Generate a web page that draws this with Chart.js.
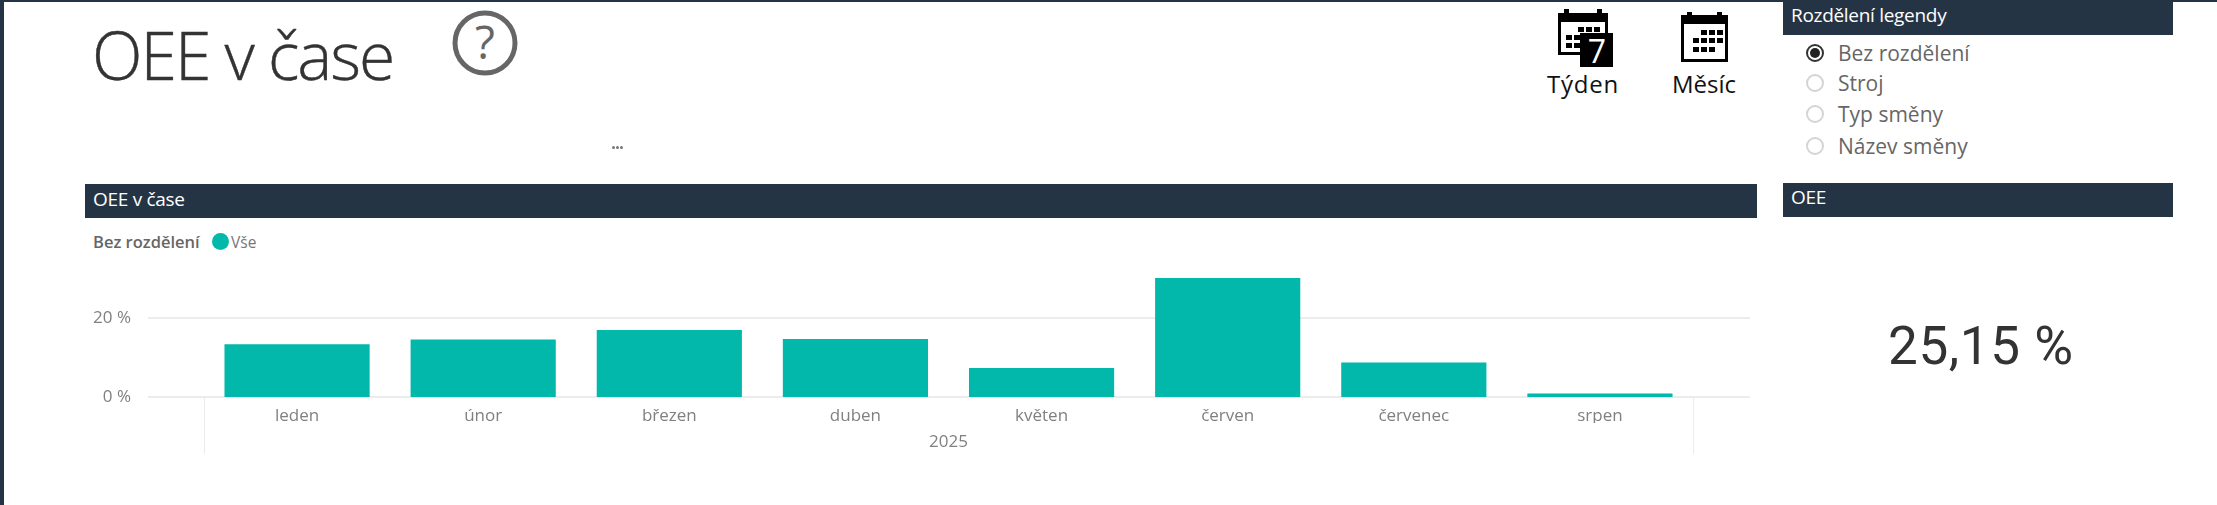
<!DOCTYPE html>
<html lang="cs">
<head>
<meta charset="utf-8">
<title>OEE v čase</title>
<script src="https://cdn.jsdelivr.net/npm/chart.js@4/dist/chart.umd.min.js"></script>
<style>
    html, body { margin: 0; padding: 0; background: #fff; }
    body { position: relative; width: 2217px; height: 505px; overflow: hidden; font-family: "Open Sans", sans-serif; }
    canvas { position: absolute; left: 0; top: 0; }
    .edge-top { position: absolute; left: 0; top: 0; width: 2217px; height: 2px; background: #253444; }
    .edge-left { position: absolute; left: 0; top: 0; width: 4px; height: 505px; background: #253444; }
    .txt { position: absolute; white-space: nowrap; }
    .bar { position: absolute; background: #253444; color: #fff; font-size: 19px; letter-spacing: -0.3px; box-sizing: border-box; padding-left: 8px; }
    .page-title { left: 92px; top: 12px; font-size: 66px; line-height: 84px; font-weight: 300; color: #333; letter-spacing: -2px; -webkit-text-stroke: 0.4px #333; }
    .legend-name { left: 93px; top: 231px; font-size: 16.5px; line-height: 22px; font-weight: 600; color: #666; }
    .legend-dot { position: absolute; left: 212px; top: 233px; width: 17px; height: 17px; border-radius: 50%; background: #01B8AA; }
    .legend-item { left: 231px; top: 231px; font-size: 15.5px; line-height: 22px; color: #777; }
    .slicer-label { left: 1838px; font-size: 21px; line-height: 30px; color: #666; font-weight: 400; }
    .radio { position: absolute; left: 1806px; width: 14px; height: 14px; border: 2px solid #d4d4d4; border-radius: 50%; background: #fff; }
    .radio.on { border-color: #333; }
    .radio.on::after { content: ""; position: absolute; left: 2px; top: 2px; width: 10px; height: 10px; border-radius: 50%; background: #222; }
    .kpi { left: 1888px; top: 311px; font-family: Roboto, sans-serif; font-size: 53px; line-height: 70px; color: #333; letter-spacing: 0.6px; }
    .nav-label { font-size: 24px; line-height: 30px; color: #111; top: 69px; }
    .dot { position: absolute; top: 146px; width: 3px; height: 3px; border-radius: 50%; background: #777; }
    svg { position: absolute; }
</style>
</head>
<body>
<div class="edge-top"></div>
<div class="edge-left"></div>

<div class="txt page-title">OEE v čase</div>
<svg style="left:450px;top:9px" width="70" height="70" viewBox="0 0 70 70">
    <circle cx="35" cy="34" r="30" fill="none" stroke="#666" stroke-width="5"/>
    <text x="35" y="50" text-anchor="middle" font-family="Open Sans" font-size="46" fill="#666">?</text>
</svg>
<div class="dot" style="left:612px"></div>
<div class="dot" style="left:616px"></div>
<div class="dot" style="left:620px"></div>

<!-- ikona Týden -->
<svg style="left:1558px;top:9px" width="56" height="58" viewBox="0 0 56 58">
    <path d="M0 4h6v-4h5v4h28v-4h5v4h6v42H0z" fill="#000"/>
    <rect x="3" y="13" width="44" height="30" fill="#fff"/>
    <g fill="#000">
        <rect x="20" y="18" width="6" height="5"/><rect x="28" y="18" width="6" height="5"/><rect x="36" y="18" width="6" height="5"/>
        <rect x="8" y="26" width="6" height="5"/><rect x="16" y="26" width="6" height="5"/><rect x="24" y="26" width="6" height="5"/>
        <rect x="8" y="34" width="6" height="5"/><rect x="16" y="34" width="6" height="5"/>
        <rect x="22" y="24" width="33" height="34"/>
    </g>
    <text x="39" y="54" text-anchor="middle" font-family="Open Sans" font-size="32" fill="#fff">7</text>
</svg>
<div class="txt nav-label" style="left:1547px;letter-spacing:0.8px">Týden</div>

<!-- ikona Měsíc -->
<svg style="left:1681px;top:12px" width="47" height="50" viewBox="0 0 47 50">
    <path d="M0 3h6v-3h5v3h25v-3h5v3h6v47H0z" fill="#000"/>
    <rect x="3" y="12" width="41" height="35" fill="#fff"/>
    <g fill="#000">
        <rect x="20" y="18" width="6" height="5"/><rect x="28" y="18" width="6" height="5"/><rect x="36" y="18" width="6" height="5"/>
        <rect x="12" y="26" width="6" height="5"/><rect x="20" y="26" width="6" height="5"/><rect x="28" y="26" width="6" height="5"/><rect x="36" y="26" width="6" height="5"/>
        <rect x="12" y="35" width="6" height="5"/><rect x="20" y="35" width="6" height="5"/><rect x="28" y="35" width="6" height="5"/>
    </g>
</svg>
<div class="txt nav-label" style="left:1672px">Měsíc</div>

<div class="bar" style="left:85px;top:184px;width:1672px;height:34px;line-height:31px">OEE v čase</div>
<div class="bar" style="left:1783px;top:1px;width:390px;height:34px;line-height:28px">Rozdělení legendy</div>
<div class="bar" style="left:1783px;top:183px;width:390px;height:34px;line-height:28px">OEE</div>

<div class="txt legend-name">Bez rozdělení</div>
<div class="legend-dot"></div>
<div class="txt legend-item">Vše</div>

<div id="slicer"></div>
<div class="txt kpi" id="kpi"></div>

<canvas id="oee-chart" width="2217" height="505"></canvas>

<script>
const months = ['leden', 'únor', 'březen', 'duben', 'květen', 'červen', 'červenec', 'srpen'];
const years = ['2025'];
const oeeValues = [13.3, 14.5, 16.9, 14.6, 7.3, 30.0, 8.7, 0.9];
const yTickValues = [0, 20];
const slicerOptions = ['Bez rozdělení', 'Stroj', 'Typ směny', 'Název směny'];
const slicerRows = [53, 83, 114, 146];
const kpiText = '25,15 %';

const AXIS_TEXT = '#808080';
const LINE_COLOR = '#ececec';
const axisFont = { family: '"Open Sans"', size: 17 };

function renderSlicer() {
    const container = document.getElementById('slicer');
    slicerOptions.forEach((name, i) => {
        const radio = document.createElement('div');
        radio.className = i === 0 ? 'radio on' : 'radio';
        radio.style.top = (slicerRows[i] - 9) + 'px';
        container.appendChild(radio);

        const label = document.createElement('div');
        label.className = 'txt slicer-label';
        label.style.top = (slicerRows[i] - 15) + 'px';
        label.textContent = name;
        container.appendChild(label);
    });
}

// vodorovné mřížky přesahují plochu grafu, svislé dělí skupinu roku
const frameLines = {
    id: 'frameLines',
    beforeDatasetsDraw(chart) {
        const { ctx, chartArea, scales } = chart;
        ctx.save();
        ctx.strokeStyle = LINE_COLOR;
        ctx.lineWidth = 2;
        yTickValues.forEach(v => {
            const y = Math.round(scales.y.getPixelForValue(v));
            ctx.beginPath();
            ctx.moveTo(148, y);
            ctx.lineTo(1750, y);
            ctx.stroke();
        });
        ctx.lineWidth = 1;
        [chartArea.left, chartArea.right].forEach(x => {
            ctx.beginPath();
            ctx.moveTo(x + 0.5, chartArea.bottom);
            ctx.lineTo(x + 0.5, 454);
            ctx.stroke();
        });
        ctx.restore();
    }
};

function renderChart() {
    const ctx = document.getElementById('oee-chart').getContext('2d');
    new Chart(ctx, {
        type: 'bar',
        data: {
            labels: months,
            datasets: [{
                label: 'Vše',
                data: oeeValues,
                backgroundColor: '#01B8AA',
                categoryPercentage: 0.78,
                barPercentage: 1
            }]
        },
        options: {
            responsive: false,
            animation: false,
            layout: { padding: { left: 0, right: 524, top: 278, bottom: 52 } },
            plugins: { legend: { display: false }, tooltip: { enabled: false } },
            scales: {
                x: {
                    grid: { display: false },
                    border: { display: false },
                    ticks: { color: AXIS_TEXT, font: axisFont, padding: 1, maxRotation: 0, autoSkip: false },
                    afterFit: scale => { scale.height = 26; }
                },
                year: {
                    type: 'category',
                    labels: years,
                    position: 'bottom',
                    grid: { display: false },
                    border: { display: false },
                    ticks: { color: AXIS_TEXT, font: axisFont, padding: 1, maxRotation: 0 },
                    afterFit: scale => { scale.height = 30; }
                },
                y: {
                    min: 0,
                    max: 30,
                    grid: { display: false },
                    border: { display: false },
                    ticks: {
                        stepSize: 20,
                        includeBounds: false,
                        padding: 65,
                        color: AXIS_TEXT,
                        font: axisFont,
                        callback: v => v + ' %'
                    },
                    afterFit: scale => { scale.width = 204; }
                }
            }
        },
        plugins: [frameLines]
    });
}

document.addEventListener('DOMContentLoaded', () => {
    renderSlicer();
    document.getElementById('kpi').textContent = kpiText;
    renderChart();
});
</script>
</body>
</html>
